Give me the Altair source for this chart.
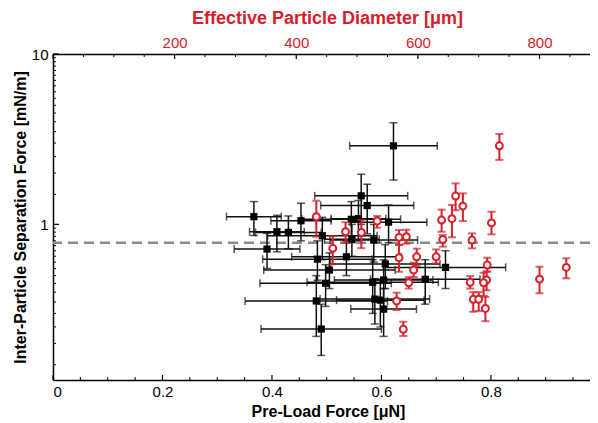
import altair as alt
import pandas as pd

RED = "#d7202b"
FONT = "Liberation Sans"

# ---- Black squares: pre-load force [uN] (bottom axis) ----
force     = [0.622, 0.563, 0.574, 0.367, 0.453, 0.545, 0.558, 0.613, 0.409, 0.430,
             0.492, 0.391, 0.483, 0.536, 0.505, 0.498, 0.481, 0.490, 0.586, 0.607,
             0.584, 0.604, 0.588, 0.598, 0.604, 0.680, 0.717, 0.546]
force_err = [0.080, 0.085, 0.085, 0.050, 0.055, 0.090, 0.050, 0.070, 0.050, 0.060,
             0.100, 0.060, 0.100, 0.100, 0.120, 0.120, 0.130, 0.110, 0.080, 0.100,
             0.120, 0.090, 0.100, 0.080, 0.060, 0.100, 0.110, 0.050]
sep_b     = [2.89, 1.47, 1.29, 1.11, 1.05, 1.07, 1.08, 1.03, 0.905, 0.897,
             0.857, 0.716, 0.625, 0.645, 0.539, 0.451, 0.355, 0.243, 0.809, 0.585,
             0.457, 0.471, 0.364, 0.359, 0.318, 0.476, 0.559, 0.817]
sep_b_lo  = [1.82, 1.00, 0.88, 0.86, 0.80, 0.78, 0.80, 0.78, 0.69, 0.72,
             0.62, 0.55, 0.47, 0.50, 0.42, 0.33, 0.22, 0.17, 0.60, 0.42,
             0.30, 0.33, 0.26, 0.25, 0.22, 0.34, 0.42, 0.65]
sep_b_hi  = [3.95, 1.97, 1.72, 1.36, 1.33, 1.36, 1.38, 1.30, 1.13, 1.12,
             1.10, 0.885, 0.80, 0.80, 0.68, 0.58, 0.50, 0.34, 1.00, 0.76,
             0.62, 0.62, 0.48, 0.47, 0.42, 0.62, 0.70, 1.00]

# ---- Red circles: effective particle diameter [um] (top axis) ----
diam     = [433, 481, 507, 533, 460, 569, 581, 569, 598, 593,
            585, 565, 576, 734, 662, 674, 639, 656, 721, 689,
            641, 630, 714, 713, 686, 708, 691, 700, 711, 800, 844]
sep_r    = [1.108, 0.905, 0.897, 1.046, 0.723, 0.839, 0.846, 0.637, 0.645, 0.539,
            0.454, 0.355, 0.242, 2.89, 1.466, 1.28, 1.06, 1.08, 1.02, 0.809,
            0.816, 0.645, 0.577, 0.471, 0.457, 0.454, 0.363, 0.363, 0.321, 0.477, 0.559]
sep_r_lo = [0.846, 0.78, 0.725, 0.955, 0.582, 0.756, 0.77, 0.527, 0.57, 0.49,
            0.42, 0.314, 0.221, 2.39, 1.21, 1.045, 0.905, 0.84, 0.874, 0.723,
            0.74, 0.59, 0.527, 0.41, 0.42, 0.38, 0.307, 0.31, 0.27, 0.394, 0.482]
sep_r_hi = [1.376, 1.03, 1.06, 1.12, 0.854, 0.926, 0.93, 0.76, 0.72, 0.595,
            0.49, 0.397, 0.268, 3.39, 1.74, 1.52, 1.22, 1.30, 1.186, 0.885,
            0.865, 0.713, 0.637, 0.53, 0.497, 0.52, 0.40, 0.40, 0.375, 0.564, 0.632]

threshold = [0.78]

# ---- axis tick values ----
x_labels_bottom = [0, 0.2, 0.4, 0.6, 0.8]
x_major_bottom = [0, 0.2, 0.4, 0.6, 0.8]
x_minor_bottom = [0.05, 0.1, 0.15, 0.25, 0.3, 0.35, 0.45, 0.5, 0.55,
                  0.65, 0.7, 0.75, 0.85, 0.9, 0.95]
x_labels_top = [200, 400, 600, 800]
x_major_top = [0, 200, 400, 600, 800]
x_minor_top = [50, 100, 150, 250, 300, 350, 450, 500, 550, 650, 700, 750, 850]
y_labels = [1, 10]
y_minor = [0.15, 0.2, 0.25, 0.3, 0.35, 0.4, 0.45, 0.5, 0.55, 0.6, 0.65, 0.7, 0.75,
           0.8, 0.85, 0.9, 0.95, 1.5, 2, 2.5, 3, 3.5, 4, 4.5, 5, 5.5, 6, 6.5, 7,
           7.5, 8, 8.5, 9, 9.5]

W, H = 537, 326

# ---- scales / axes ----
ys = alt.Scale(type="log", domain=[0.122, 10], nice=False)
y_axis = alt.Axis(orient="left", values=y_labels, format="~g", ticks=False, grid=False,
                  domainColor="black", domainWidth=1.5, labelFontSize=15, labelPadding=5,
                  labelColor="black", titleFontSize=16, titleFontWeight="bold",
                  titleX=-28, titleBaseline="alphabetic", titleColor="black")
Y_TITLE = "Inter-Particle Separation Force [mN/m]"

xs_b = alt.Scale(domain=[0, 0.981], nice=False, zero=False)
x_axis_b = alt.Axis(orient="bottom", values=x_labels_bottom, format="~g", ticks=False,
                    grid=False, domainColor="black", domainWidth=1.5, labelFontSize=15,
                    labelPadding=4, labelColor="black", titleFontSize=16,
                    titleFontWeight="bold", titleY=36, titleBaseline="alphabetic",
                    titleColor="black", titleX=275)
XB_TITLE = "Pre-Load Force [μN]"

xs_r = alt.Scale(domain=[0, 883], nice=False, zero=False)
x_axis_r = alt.Axis(orient="top", values=x_labels_top, format="d", ticks=False,
                    grid=False, domainColor="black", domainWidth=1.5, labelFontSize=15,
                    labelPadding=4, labelColor=RED, titleFontSize=18,
                    titleFontWeight="bold", titleY=-31, titleBaseline="alphabetic",
                    titleColor=RED, titleX=274)
XR_TITLE = "Effective Particle Diameter [μm]"


def YY(f):
    return alt.Y(f, type="quantitative", scale=ys, axis=y_axis, title=Y_TITLE)


def XB(f):
    return alt.X(f, type="quantitative", scale=xs_b, axis=x_axis_b, title=XB_TITLE)


def XR(f):
    return alt.X(f, type="quantitative", scale=xs_r, axis=x_axis_r, title=XR_TITLE)


# ---- data frames ----
dfb = pd.DataFrame({"force": force, "ferr": force_err, "sep": sep_b,
                    "lo": sep_b_lo, "hi": sep_b_hi})
dfb["flo"] = dfb["force"] - dfb["ferr"]
dfb["fhi"] = dfb["force"] + dfb["ferr"]
capbx = pd.concat([dfb[["flo", "sep"]].rename(columns={"flo": "cx"}),
                   dfb[["fhi", "sep"]].rename(columns={"fhi": "cx"})])
capby = pd.concat([dfb[["force", "lo"]].rename(columns={"lo": "cy"}),
                   dfb[["force", "hi"]].rename(columns={"hi": "cy"})])

dfr = pd.DataFrame({"diam": diam, "sep": sep_r, "lo": sep_r_lo, "hi": sep_r_hi})
capry = pd.concat([dfr[["diam", "lo"]].rename(columns={"lo": "cy"}),
                   dfr[["diam", "hi"]].rename(columns={"hi": "cy"})])

BLK = "#111111"

b_xbar = alt.Chart(dfb).mark_rule(color=BLK, strokeWidth=1.5).encode(
    x=XB("flo"), x2="fhi", y=YY("sep"))
b_xcap = alt.Chart(capbx).mark_tick(color=BLK, orient="vertical", size=8, thickness=1.5).encode(
    x=XB("cx"), y=YY("sep"))
b_ybar = alt.Chart(dfb).mark_rule(color=BLK, strokeWidth=1.5).encode(
    x=XB("force"), y=YY("lo"), y2="hi")
b_ycap = alt.Chart(capby).mark_tick(color=BLK, orient="horizontal", size=8, thickness=1.5).encode(
    x=XB("force"), y=YY("cy"))
b_pts = alt.Chart(dfb).mark_square(color="black", size=52, opacity=1).encode(
    x=XB("force"), y=YY("sep"))

dash = alt.Chart(pd.DataFrame({"v": threshold})).mark_rule(
    color="#8a8a8a", strokeWidth=2.5, strokeDash=[10, 6]).encode(y=YY("v"))

# inward ticks
t_xb_major = alt.Chart(pd.DataFrame({"t": x_major_bottom})).mark_rule(color="black", strokeWidth=1.2).encode(
    x=XB("t"), y=alt.value(H), y2=alt.value(H - 5))
t_xb_minor = alt.Chart(pd.DataFrame({"t": x_minor_bottom})).mark_rule(color="black", strokeWidth=1).encode(
    x=XB("t"), y=alt.value(H), y2=alt.value(H - 3))
t_y_major = alt.Chart(pd.DataFrame({"t": y_labels})).mark_rule(color="black", strokeWidth=1.2).encode(
    y=YY("t"), x=alt.value(0), x2=alt.value(6))
t_y_minor = alt.Chart(pd.DataFrame({"t": y_minor})).mark_rule(color="black", strokeWidth=1).encode(
    y=YY("t"), x=alt.value(0), x2=alt.value(3))

black = alt.layer(t_xb_major, t_xb_minor, t_y_major, t_y_minor, dash,
                  b_xbar, b_xcap, b_ybar, b_ycap, b_pts)

r_ybar = alt.Chart(dfr).mark_rule(color=RED, strokeWidth=2).encode(
    x=XR("diam"), y=YY("lo"), y2="hi")
r_ycap = alt.Chart(capry).mark_tick(color=RED, orient="horizontal", size=8, thickness=2).encode(
    x=XR("diam"), y=YY("cy"))
r_pts = alt.Chart(dfr).mark_point(shape="circle", size=48, filled=True, fill="white",
                                  stroke=RED, strokeWidth=2, opacity=1).encode(
    x=XR("diam"), y=YY("sep"))
t_xr_major = alt.Chart(pd.DataFrame({"t": x_major_top})).mark_rule(color="black", strokeWidth=1.2).encode(
    x=XR("t"), y=alt.value(0), y2=alt.value(5))
t_xr_minor = alt.Chart(pd.DataFrame({"t": x_minor_top})).mark_rule(color="black", strokeWidth=1).encode(
    x=XR("t"), y=alt.value(0), y2=alt.value(3))

red = alt.layer(t_xr_major, t_xr_minor, r_ybar, r_ycap, r_pts)

chart = alt.layer(black, red).resolve_scale(x="independent").properties(
    width=W, height=H,
    autosize=alt.AutoSizeParams(type="none"),
    padding={"left": 45, "top": 46, "right": 0, "bottom": 41},
).configure_view(stroke=None).configure(
    font=FONT
).configure_axis(labelFont=FONT, titleFont=FONT)

chart.save("out.html", embed_options={"renderer": "svg", "actions": False})
